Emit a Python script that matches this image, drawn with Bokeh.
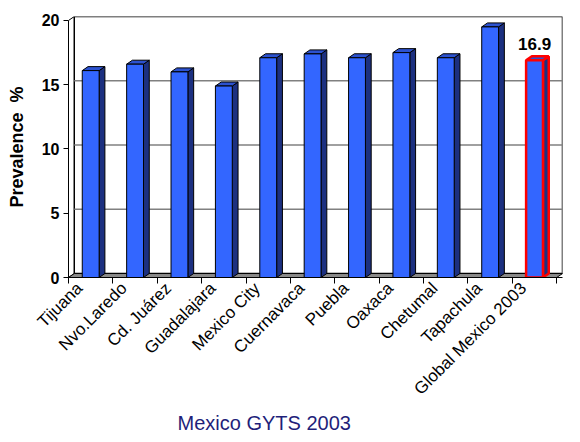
import math
from bokeh.plotting import figure
from bokeh.models import FixedTicker, Range1d, Label, Title, LinearAxis
from bokeh.embed import file_html
from bokeh.resources import INLINE

categories = ["Tijuana", "Nvo.Laredo", "Cd. Juárez", "Guadalajara", "Mexico City",
              "Cuernavaca", "Puebla", "Oaxaca", "Chetumal", "Tapachula", "Global Mexico 2003"]
values = [16.1, 16.6, 16.0, 14.9, 17.1, 17.4, 17.1, 17.5, 17.1, 19.5, 16.9]
highlight = "Global Mexico 2003"
highlight_label = "16.9"
y_ticks = [0, 5, 10, 15, 20]
y_max = 20
title_text = "Mexico GYTS 2003"
y_label = "Prevalence\u00a0 %"

# category slot = 4 x-units; bar centred in slot, label anchored 1 unit left of centre
U = 4
DX = 0.52
DY = 0.31
HALF = 0.76
n = len(categories)
x_lo = -U / 2
x_hi = (n - 0.5) * U

FONT = "Liberation Sans"
FRONT = "#3366ff"
SIDE = "#1c3080"
TOP = "#2c52d0"

p = figure(width=580, height=442, output_backend="svg", toolbar_location=None,
           x_range=Range1d(x_lo, x_hi + DX), y_range=Range1d(0, y_max + DY),
           min_border_left=68, min_border_right=18, min_border_top=16,
           min_border_bottom=165)
p.grid.visible = False
p.outline_line_color = None
p.background_fill_color = "white"
p.border_fill_color = "white"

# back wall
p.quad(left=x_lo + DX, right=x_hi + DX, bottom=DY, top=y_max + DY,
       fill_color="white", line_color="black", line_width=1.5)
grid_y = [t + DY for t in y_ticks if 0 < t < y_max]
p.segment(x0=[x_lo + DX] * len(grid_y), x1=[x_hi + DX] * len(grid_y),
          y0=grid_y, y1=grid_y, line_color="#808080", line_width=1.5)
# left side-wall edges
p.segment(x0=[x_lo, x_lo], x1=[x_lo + DX, x_lo + DX], y0=[0, y_max], y1=[DY, y_max + DY],
          line_color="black", line_width=1)
# floor
p.patch([x_lo, x_hi, x_hi + DX, x_lo + DX], [0, 0, DY, DY],
        fill_color="#8a8a8a", line_color="black", line_width=1)

# bars
for i, (c, v) in enumerate(zip(categories, values)):
    lc = "#ff0000" if c == highlight else "black"
    lw = 2.5 if c == highlight else 1
    cx = i * U
    l, r = cx - HALF, cx + HALF
    p.patch([r, r + DX, r + DX, r], [0, DY, v + DY, v],
            fill_color=SIDE, line_color=lc, line_width=lw)
    p.patch([l, r, r + DX, l + DX], [v, v, v + DY, v + DY],
            fill_color=TOP, line_color=lc, line_width=lw)
    p.quad(left=l, right=r, bottom=0, top=v,
           fill_color=FRONT, line_color=lc, line_width=lw)

hi = categories.index(highlight)
p.add_layout(Label(x=hi * U, y=values[hi], text=highlight_label, text_font=FONT,
                   text_font_size="17px", text_font_style="bold", text_align="center",
                   text_color="black", text_baseline="bottom", x_offset=0, y_offset=10))

# x axis
xa = p.xaxis[0]
label_pos = [i * U - 1 for i in range(n)]
xa.ticker = FixedTicker(ticks=label_pos, minor_ticks=[i * U - U // 2 for i in range(n + 1)])
xa.major_label_overrides = {pos: c for pos, c in zip(label_pos, categories)}
xa.major_label_orientation = math.pi / 4
xa.major_tick_line_color = None
xa.major_tick_out = 6
xa.minor_tick_in = 0
xa.minor_tick_out = 6
xa.minor_tick_line_color = "black"
xa.axis_line_color = "black"
xa.major_label_text_font = FONT
xa.major_label_text_font_size = "17px"
xa.major_label_text_color = "black"
xa.major_label_standoff = 2

# invisible spacer axis to push the caption down
spacer = LinearAxis(ticker=FixedTicker(ticks=[]), major_tick_in=0, major_tick_out=8,
                    minor_tick_in=0, minor_tick_out=0, axis_line_color=None,
                    major_tick_line_color=None, minor_tick_line_color=None,
                    major_label_text_font_size="0px")
p.add_layout(spacer, "below")

# y axis
ya = p.yaxis[0]
ya.ticker = FixedTicker(ticks=y_ticks)
ya.bounds = (0, y_max)
ya.axis_line_color = "black"
ya.major_tick_in = 0
ya.major_tick_out = 5
ya.minor_tick_line_color = None
ya.major_label_text_font = FONT
ya.major_label_text_font_size = "16px"
ya.major_label_text_font_style = "bold"
ya.major_label_text_color = "black"
ya.major_label_standoff = 4
ya.axis_label = y_label
ya.axis_label_text_font = FONT
ya.axis_label_text_font_size = "18px"
ya.axis_label_text_font_style = "bold"
ya.axis_label_text_color = "black"
ya.axis_label_standoff = 12

p.add_layout(Title(text=title_text, text_font=FONT, text_font_size="20px",
                   text_font_style="normal", text_color="#1f1f7a", align="left",
                   offset=109, standoff=2), "below")

open("out.html", "w").write(file_html(p, INLINE))
